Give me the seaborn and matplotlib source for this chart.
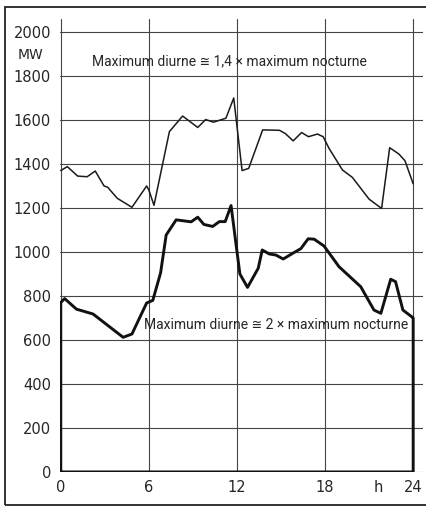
import matplotlib.pyplot as plt
import seaborn as sns
from matplotlib.patches import Rectangle

# courbe haute (heures, MW)
upper_hours = [0.0, 0.45, 1.15, 1.8, 2.35, 2.95, 3.2, 3.85, 4.85, 5.85, 6.0, 6.35,
               7.4, 8.3, 9.33, 9.87, 10.4, 11.25, 11.78, 12.35, 12.8, 13.75, 14.9,
               15.3, 15.83, 16.4, 16.87, 17.48, 17.87, 18.27, 19.18, 19.86, 21.0,
               21.85, 22.4, 23.03, 23.44, 24.0]
upper_mw = [1370, 1388, 1345, 1342, 1368, 1300, 1294, 1244, 1203, 1300, 1282, 1212,
            1547, 1618, 1566, 1602, 1590, 1608, 1700, 1370, 1380, 1555, 1553,
            1538, 1505, 1543, 1524, 1536, 1524, 1471, 1373, 1339, 1240,
            1198, 1474, 1445, 1415, 1310]

# courbe basse, fermée jusqu'à zéro
lower_hours = [0, 0, 0.27, 1.07, 2.2, 4.25, 4.85, 5.85, 6.27, 6.8, 7.18, 7.86, 8.88,
               9.33, 9.75, 10.35, 10.8, 11.2, 11.6, 11.93, 12.2, 12.72, 13.45, 13.72,
               14.2, 14.65, 15.15, 15.8, 16.35, 16.85, 17.26, 17.93, 18.95, 20.43,
               21.33, 21.8, 22.47, 22.8, 23.3, 23.95, 24, 24, 0]
lower_mw = [0, 770, 788, 740, 718, 612, 627, 768, 780, 905, 1077, 1146, 1137,
            1158, 1125, 1116, 1138, 1138, 1211, 1039, 900, 839, 926, 1009,
            991, 986, 968, 994, 1015, 1060, 1058, 1027, 933, 842,
            736, 721, 876, 865, 736, 703, 700, 0, 0]

x_ticks = [0, 6, 12, 18, 24]
y_ticks = list(range(0, 2001, 200))

label_upper = "Maximum diurne \u2245 1,4 \u00d7 maximum nocturne"
label_lower = "Maximum diurne \u2245 2 \u00d7 maximum nocturne"

sns.set_style("white")
plt.rcParams["font.family"] = ["DejaVu Sans"]

fig = plt.figure(figsize=(4.27, 5.08), dpi=100)
ax = fig.add_axes([0.1405, 0.071, 0.8505, 0.892])

sns.lineplot(x=upper_hours, y=upper_mw, ax=ax, color="#1a1a1a", linewidth=1.1,
             sort=False, estimator=None)
sns.lineplot(x=lower_hours, y=lower_mw, ax=ax, color="#111111", linewidth=2.1,
             sort=False, estimator=None)

ax.set_xlim(-0.05, 24.68)
ax.set_ylim(0, 2060)
ax.set_xticks(x_ticks)
ax.set_yticks(y_ticks)
ax.set_xticklabels(["0", "6", "12", "18", "24"])
ax.set_yticklabels([str(v) for v in y_ticks])
ax.grid(True, color="#444444", linewidth=0.8)
ax.set_axisbelow(True)
for s in ax.spines.values():
    s.set_visible(False)
ax.tick_params(axis="y", length=6.5, width=0.8, color="#444444", pad=0, labelsize=10.5)
ax.tick_params(axis="x", length=0, pad=6, labelsize=10.5)

cond = ["Roboto", "DejaVu Sans"]
ax.text(11.5, 1866, label_upper, ha="center", va="center", fontsize=10,
        family=cond, fontstretch="condensed")
ax.text(14.65, 668, label_lower, ha="center", va="center", fontsize=10,
        family=cond, fontstretch="condensed")
ax.text(-1.2, 1895, "MW", ha="right", va="center", fontsize=10)
ax.text(21.6, -73, "h", ha="center", va="center", fontsize=10.5)

fig.patches.append(Rectangle((0.012, 0.006), 1.0, 0.98, transform=fig.transFigure,
                             fill=False, edgecolor="#222222", linewidth=1.3))

fig.savefig("out.png", dpi=100)
